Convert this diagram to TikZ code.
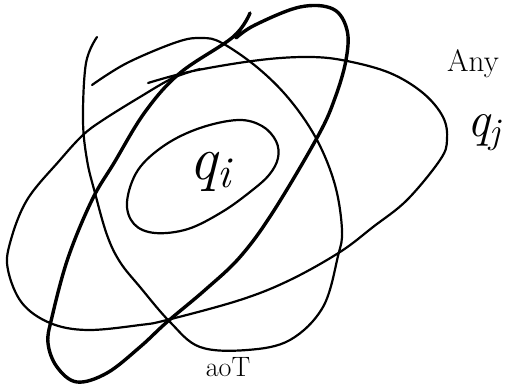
\documentclass[tikz,border=0pt]{standalone}
\begin{document}
\begin{tikzpicture}[x=1pt,y=-1pt,line cap=round,line join=round]
\tikzset{
  pen/.style={line width=2.2pt,black},
  thickpen/.style={line width=3.4pt,black},
  lbl/.style={inner sep=0pt,outer sep=0pt}
}
\useasboundingbox (0,0) rectangle (505,385);
% inner ellipse around q_i
\draw[pen] plot[smooth cycle,tension=0.6] coordinates {
  (127,202) (138,170) (165,145) (200,128) (238,120) (262,126) (276,141)
  (278,158) (269,175) (250,192) (222,212) (188,229) (155,233) (134,224)};
% big wide ellipse
\draw[pen] plot[smooth,tension=0.6] coordinates {
  (148,83) (193,71) (260,60) (310,57) (347,61) (390,73) (423,93) (443,117)
  (447,140) (440,160) (407,200) (373,227) (340,252) (290,280) (240,300)
  (167,320) (140,325) (87,330) (50,323) (22,303) (8,270) (10,243) (27,200)
  (60,160) (83,135) (103,120) (140,97) (173,78) (200,69)};
% tall thin ellipse (open at top left)
\draw[pen] plot[smooth,tension=0.6] coordinates {
  (92,85) (127,63) (177,42) (202,38) (222,43) (258,68) (290,100) (317,140)
  (335,185) (342,230) (338,256) (323,307) (290,340) (247,350) (200,347)
  (170,322) (140,287) (120,262) (107,235) (95,193) (87,160) (83,120)
  (86,63) (97,37)};
% thick narrow diagonal ellipse
\draw[thickpen] plot[smooth,tension=0.6] coordinates {
  (250,13) (233,37) (180,73) (145,112) (114,163) (92,200) (68,258)
  (52,317) (48,343) (57,367) (77,382) (107,373) (140,347) (167,322)
  (205,290) (240,257) (273,212) (318,136) (335,98) (346,60) (347,30)
  (333,9) (300,7) (255,25) (236,38)};
% labels
\node[lbl] (qi) at (210,172) {\fontsize{62}{62}\selectfont\itshape q\raisebox{-8pt}{\fontsize{44}{44}\selectfont i}};
\node[lbl] (any) at (473,64) {\fontsize{31}{31}\selectfont Any};
\node[lbl] (qj) at (484,133) {\fontsize{50}{50}\selectfont\itshape q\raisebox{-7pt}{\fontsize{36}{36}\selectfont j}};
\node[lbl] (aot) at (228,367) {\fontsize{28}{28}\selectfont aoT};
\end{tikzpicture}
\end{document}
